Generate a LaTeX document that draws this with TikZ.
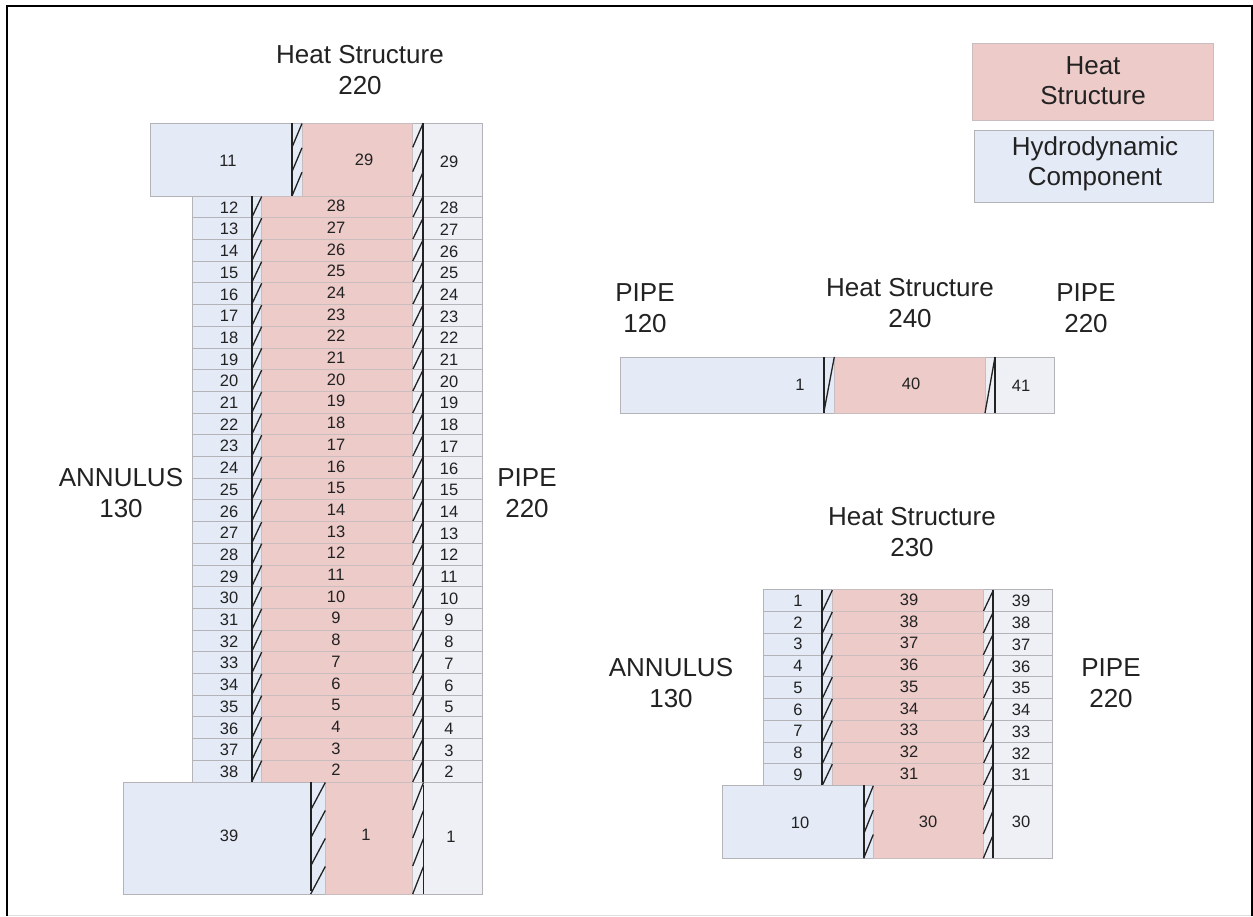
\documentclass[tikz,border=0pt]{standalone}
\usepackage{fontspec}
\setmainfont{Liberation Sans}
\definecolor{heat}{HTML}{ECCBC9}
\definecolor{hydro}{HTML}{E4EBF6}
\definecolor{pale}{HTML}{EEF0F6}
\definecolor{edge}{HTML}{B4B4B8}
\definecolor{ink}{HTML}{222222}
\tikzset{
  big/.style={font=\fontsize{26}{30.5}\selectfont,text=ink,align=center,inner sep=0pt},
  num/.style={font=\fontsize{16.5}{19}\selectfont,text=ink,inner sep=0pt},
  heatbox/.style={fill=heat,draw=edge!60!heat,line width=0.8pt},
  hydrobox/.style={fill=hydro,draw=edge,line width=0.8pt},
  palebox/.style={fill=pale,draw=edge,line width=0.8pt},
  wallline/.style={draw=ink,line width=1.7pt},
  slash/.style={draw=ink,line width=1.3pt},
}
% block: x-left, x-wall, x-red, x-redend, x-wall2, x-right, y-top, y-bot
\newcommand{\blockrow}[8]{%
  \fill[hydro] (#1,#7) rectangle (#3,#8);
  \fill[pale] (#4,#7) rectangle (#6,#8);
  \draw[edge,line width=0.8pt] (#1,#8) -- (#1,#7) -- (#6,#7) -- (#6,#8) -- cycle;
  \draw[heatbox] (#3,#7) rectangle (#4,#8);
}
\newcommand{\slashes}[5]{% x1 x2 ytop ybot n
  \pgfmathsetmacro{\sh}{(#4-#3)/#5}
  \foreach \k in {1,...,#5}{
    \draw[slash] (#1,{#3+\k*\sh}) -- (#2,{#3+(\k-1)*\sh+0.5});
  }
}
\begin{document}
\begin{tikzpicture}[x=1pt,y=-1pt]
\useasboundingbox (0,0) rectangle (1253,916);
\fill[white] (0,0) rectangle (1253,916);
\draw[black,line width=2.5pt] (7,916) -- (7,6) -- (1252,6) -- (1252,916);
\draw[black!12,line width=1pt] (8,915.5) -- (1251,915.5);

% --- Main column
\blockrow{150}{292}{302}{412.7}{423}{482}{123}{196}
\draw[wallline] (292,123) -- (292,196);
\draw[wallline] (423,123) -- (423,196);
\slashes{292}{302}{123}{196}{3}
\slashes{412.7}{423}{123}{196}{3}
\node[num] (t11) at (228,161) {11};
\node[num] (r29) at (364,160) {29};
\node[num] (p29) at (449,162) {29};

\foreach \i [evaluate=\i as \ya using {196+21.7*\i},
             evaluate=\i as \yb using {196+21.7*(\i+1)},
             evaluate=\i as \lab using {int(12+\i)},
             evaluate=\i as \rlab using {int(28-\i)}] in {0,...,26}{
  \blockrow{192.7}{251.7}{261.7}{412.7}{423}{482}{\ya}{\yb}
  \draw[slash] (251.7,\yb) -- (261.7,\ya+0.5);
  \draw[slash] (412.7,\yb) -- (423,\ya+0.5);
  \node[num] (a\lab) at (229,{\ya+11.6}) {\lab};
  \node[num] (h\rlab) at (336,{\ya+10}) {\rlab};
  \node[num] (p\rlab) at (449,{\ya+12}) {\rlab};
}
\draw[wallline] (251.7,196) -- (251.7,782);
\draw[wallline] (423,196) -- (423,782);

\blockrow{123}{310.7}{325.3}{412.7}{423.5}{482}{782}{894}
\draw[wallline] (310.7,782) -- (310.7,891);
\draw[wallline] (423.5,785) -- (423.5,894);
\slashes{310.7}{325.3}{782}{894}{4}
\slashes{412.7}{423.5}{782}{894}{4}
\node[num] (t39) at (229,836) {39};
\node[num] (r1) at (366,835) {1};
\node[num] (p1) at (451,837) {1};

\node[big] (ht220) at (360,70) {Heat Structure\\220};
\node[big] (an130a) at (121,493) {ANNULUS\\130};
\node[big] (pp220a) at (527,493) {PIPE\\220};

% --- Middle strip
\blockrow{620.7}{823.7}{834.3}{985}{995}{1054}{357}{413}
\draw[wallline] (823.7,357) -- (823.7,413);
\draw[wallline] (995,357) -- (995,413);
\draw[slash] (823.7,413) -- (834.3,357);
\draw[slash] (985,413) -- (995,357);
\node[num] (m1) at (800,385) {1};
\node[num] (m40) at (911,384) {40};
\node[num] (m41) at (1021,386) {41};
\node[big] (pp120) at (645,308) {PIPE\\120};
\node[big] (ht240) at (910,303) {Heat Structure\\240};
\node[big] (pp220b) at (1086,308) {PIPE\\220};

% --- Lower right
\foreach \i [evaluate=\i as \ya using {589.7+21.75*\i},
             evaluate=\i as \yb using {589.7+21.75*(\i+1)},
             evaluate=\i as \lab using {int(1+\i)},
             evaluate=\i as \rlab using {int(39-\i)}] in {0,...,8}{
  \blockrow{763.3}{822.3}{832.3}{983.3}{993.3}{1052.3}{\ya}{\yb}
  \draw[slash] (822.3,\yb) -- (832.3,\ya+0.5);
  \draw[slash] (983.3,\yb) -- (993.3,\ya+0.5);
  \node[num] (b\lab) at (798,{\ya+11}) {\lab};
  \node[num] (c\rlab) at (909,{\ya+10}) {\rlab};
  \node[num] (d\rlab) at (1021,{\ya+11.5}) {\rlab};
}
\draw[wallline] (822.3,589.7) -- (822.3,785.3);
\draw[wallline] (993.3,589.7) -- (993.3,785.3);
\blockrow{722.7}{863.7}{873.3}{983.3}{993.3}{1052.3}{785.3}{858.3}
\draw[wallline] (863.7,785.3) -- (863.7,858.3);
\draw[wallline] (993.3,785.3) -- (993.3,858.3);
\slashes{863.7}{873.3}{785.3}{858.3}{3}
\slashes{983.3}{993.3}{785.3}{858.3}{3}
\node[num] (b10) at (800,823) {10};
\node[num] (c30) at (928,822) {30};
\node[num] (d30) at (1021,822) {30};
\node[big] (ht230) at (912,532) {Heat Structure\\230};
\node[big] (an130b) at (671,683) {ANNULUS\\130};
\node[big] (pp220c) at (1111,683) {PIPE\\220};

% --- Legend
\draw[heatbox] (972.3,43.7) rectangle (1213.3,120);
\draw[hydrobox] (974.3,130) rectangle (1213.3,202.3);
\node[big] (legheat) at (1093,80.5) {Heat\\Structure};
\node[big] (leghydro) at (1095,164) {Hydrodynamic\\Component};
\end{tikzpicture}
\end{document}
